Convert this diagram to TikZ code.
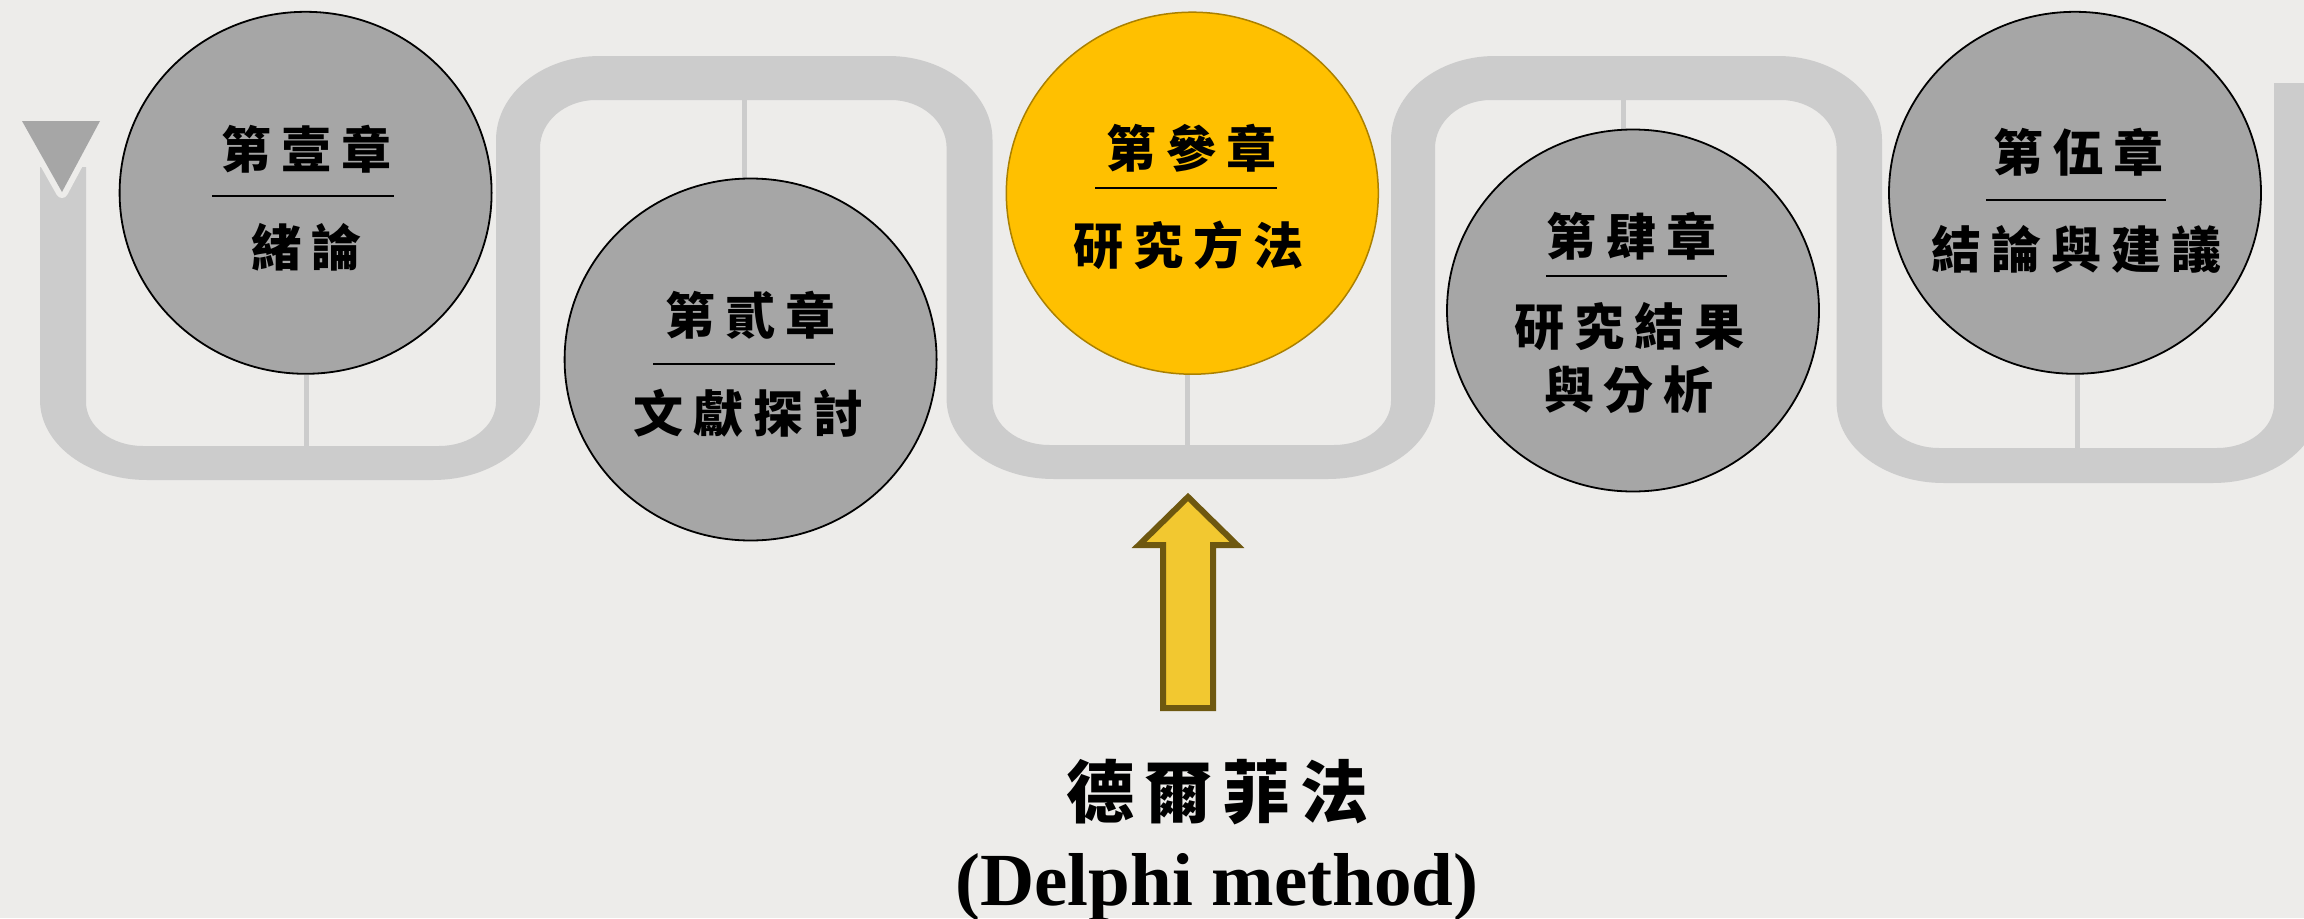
\documentclass[tikz,border=0pt]{standalone}
\usepackage{fontspec}
\setmainfont{Liberation Serif}
\newfontfamily\cjk{Noto Sans CJK TC}
\usetikzlibrary{shapes.geometric}
\definecolor{bgc}{RGB}{237,236,234}
\definecolor{trackc}{RGB}{204,204,204}
\definecolor{discc}{RGB}{166,166,166}
\definecolor{goldc}{RGB}{255,192,0}
\definecolor{goldline}{RGB}{170,128,0}
\definecolor{arrowfill}{RGB}{242,200,48}
\definecolor{arrowline}{RGB}{110,88,16}
\newcommand{\cg}{\hspace{10pt}}
\pgfdeclarelayer{bglayer}
\pgfsetlayers{bglayer,main}
\begin{document}
\begin{tikzpicture}[x=1pt,y=-1pt,
  disc/.style={ellipse, draw=black, line width=1.8pt, fill=discc, minimum width=372pt, minimum height=362pt, inner sep=0pt},
  hot/.style={disc, fill=goldc, draw=goldline, line width=1.5pt},
  conn/.style={draw=trackc, line width=5pt},
  cjkt/.style={font=\cjk\bfseries\fontsize{50pt}{63pt}\selectfont, inner sep=0pt, align=center},
  rulel/.style={draw=black, line width=2.6pt},
]
\useasboundingbox (0,0) rectangle (2304,918);

% circles
\node[disc] (c1) at (305.6,192.8) {};
\node[disc] (c2) at (750.6,359.5) {};
\node[hot]  (c3) at (1192.3,193.2) {};
\node[disc] (c4) at (1633,310.5) {};
\node[disc] (c5) at (2075,192.8) {};

\begin{pgfonlayer}{bglayer}
\fill[bgc] (0,0) rectangle (2304,918);
% serpentine track
\fill[trackc] (40,167) -- (40,400)
 arc[start angle=180, end angle=90, x radius=107, y radius=80]
 -- (433,480)
 arc[start angle=90, end angle=0, x radius=107, y radius=80]
 -- (540,148)
 arc[start angle=180, end angle=270, x radius=56, y radius=48]
 -- (890.6,100)
 arc[start angle=270, end angle=360, x radius=56, y radius=48]
 -- (946.6,399)
 arc[start angle=180, end angle=90, x radius=107, y radius=80]
 -- (1328,479)
 arc[start angle=90, end angle=0, x radius=107, y radius=80]
 -- (1435,148)
 arc[start angle=180, end angle=270, x radius=56, y radius=48]
 -- (1780.6,100)
 arc[start angle=270, end angle=360, x radius=56, y radius=48]
 -- (1836.6,403)
 arc[start angle=180, end angle=90, x radius=107, y radius=80]
 -- (2213,483)
 arc[start angle=90, end angle=0, x radius=107, y radius=80]
 -- (2320,83) -- (2274,83) -- (2274,404)
 arc[start angle=0, end angle=90, x radius=57, y radius=44]
 -- (1939,448)
 arc[start angle=90, end angle=180, x radius=57, y radius=44]
 -- (1882,140)
 arc[start angle=0, end angle=-90, x radius=104, y radius=84]
 -- (1495,56)
 arc[start angle=270, end angle=180, x radius=104, y radius=84]
 -- (1391,401)
 arc[start angle=0, end angle=90, x radius=57, y radius=44]
 -- (1049.5,445)
 arc[start angle=90, end angle=180, x radius=57, y radius=44]
 -- (992.5,140)
 arc[start angle=0, end angle=-90, x radius=104, y radius=84]
 -- (600,56)
 arc[start angle=270, end angle=180, x radius=104, y radius=84]
 -- (496,402)
 arc[start angle=0, end angle=90, x radius=57, y radius=44]
 -- (143,446)
 arc[start angle=90, end angle=180, x radius=57, y radius=44]
 -- (86,167) -- cycle;
% start marker
\draw[draw=bgc, fill=bgc, line width=12pt, line join=round] (22,121) -- (100,121) -- (62,192) -- cycle;
\fill[discc] (22,121) -- (100,121) -- (62,192) -- cycle;
% connectors
\coordinate (t1) at (306,446);
\coordinate (t2) at (744,100);
\coordinate (t3) at (1187,445);
\coordinate (t4) at (1623,100);
\coordinate (t5) at (2077,448);
\draw[conn] (c1.south -| t1) -- (t1);
\draw[conn] (t2) -- (t2 |- c2.north);
\draw[conn] (c3.south -| t3) -- (t3);
\draw[conn] (t4) -- (t4 |- c4.north);
\draw[conn] (c5.south -| t5) -- (t5);
\end{pgfonlayer}

% texts
\node[cjkt] (h1) at (306,149) {第\cg 壹\cg 章};
\draw[rulel] (212,196) -- (394,196);
\node[cjkt] (b1) at (306,247) {緒\cg 論};

\node[cjkt] (h2) at (750,315) {第\cg 貳\cg 章};
\draw[rulel] (653,364) -- (835,364);
\node[cjkt] (b2) at (748,413) {文\cg 獻\cg 探\cg 討};

\node[cjkt] (h3) at (1191,148) {第\cg 參\cg 章};
\draw[rulel] (1095,188) -- (1277,188);
\node[cjkt] (b3) at (1188,245) {研\cg 究\cg 方\cg 法};

\node[cjkt] (h4) at (1631,236) {第\cg 肆\cg 章};
\draw[rulel] (1546,276) -- (1727,276);
\node[cjkt] (b4) at (1629,358.5) {研\cg 究\cg 結\cg 果\\與\cg 分\cg 析};

\node[cjkt] (h5) at (2078,152) {第\cg 伍\cg 章};
\draw[rulel] (1986,200) -- (2166,200);
\node[cjkt] (b5) at (2076,249) {結\cg 論\cg 與\cg 建\cg 議};

% block arrow
\draw[draw=arrowline, fill=arrowfill, line width=6pt] (1188,497) -- (1237,545) -- (1213,545) -- (1213,708) -- (1163,708) -- (1163,545) -- (1139,545) -- cycle;

\node[font=\cjk\bfseries\fontsize{68pt}{80pt}\selectfont, inner sep=0pt] (zh) at (1217,792) {德\cg 爾\cg 菲\cg 法};
\node[font=\bfseries\fontsize{75pt}{90pt}\selectfont, inner sep=0pt, anchor=base] (en) at (1217,905) {(Delphi method)};
\end{tikzpicture}
\end{document}
